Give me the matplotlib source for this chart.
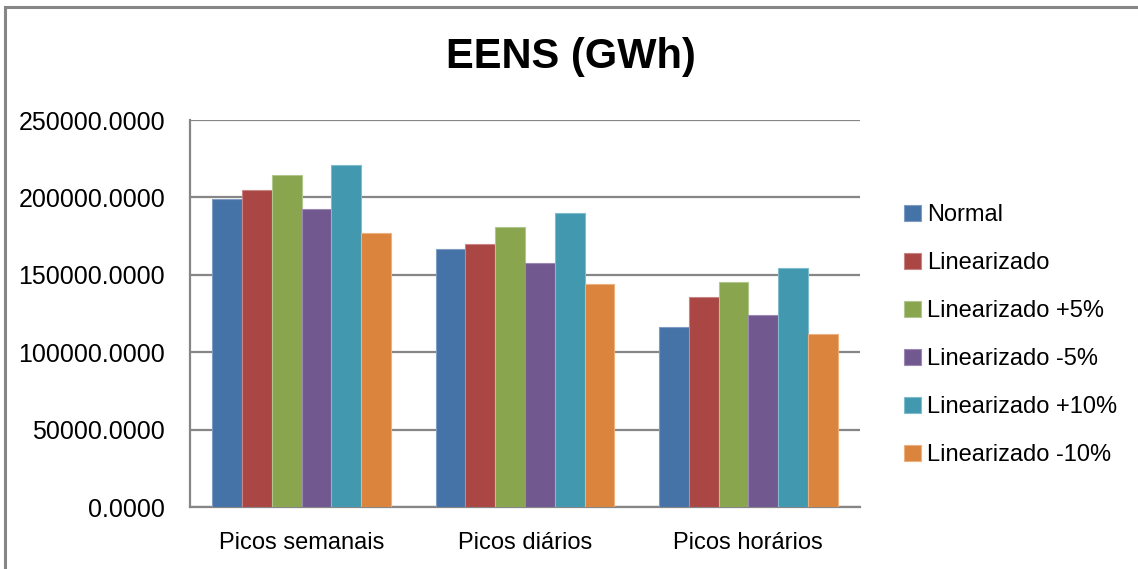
import numpy as np
import matplotlib
matplotlib.use("Agg")
import matplotlib.pyplot as plt
from matplotlib.patches import Rectangle

plt.rcParams['font.family'] = ['Liberation Sans', 'DejaVu Sans']

categories = ["Picos semanais", "Picos diários", "Picos horários"]
series = ["Normal", "Linearizado", "Linearizado +5%", "Linearizado -5%",
          "Linearizado +10%", "Linearizado -10%"]
normal = [199300, 167000, 116100]
linearizado = [204800, 170200, 135500]
lin_p5 = [214500, 180800, 145400]
lin_m5 = [192500, 158000, 123900]
lin_p10 = [220900, 190200, 154500]
lin_m10 = [177000, 144200, 112000]
values = [normal, linearizado, lin_p5, lin_m5, lin_p10, lin_m10]
colors = ["#4572A7", "#AA4643", "#89A54E", "#71588F", "#4198AF", "#DB843D"]
edges = ["#7E9CC4", "#C98583", "#B2C78F", "#9B88B3", "#7FBCCC", "#EDB07F"]
yticks = [0, 50000, 100000, 150000, 200000, 250000]

fig = plt.figure(figsize=(11.38, 5.69), dpi=100)
ax = fig.add_axes([190 / 1138, 1 - 507.3 / 569, 670 / 1138, 387.3 / 569])

x = np.arange(len(categories))
w = 0.8 / len(series)
for i, (name, vals) in enumerate(zip(series, values)):
    ax.bar(x - 0.4 + w * (i + 0.5), vals, width=w, color=colors[i],
           edgecolor=edges[i], linewidth=0.8, label=name, zorder=3)

ax.set_xlim(-0.5, len(categories) - 0.5)
ax.set_ylim(0, 250000)
ax.set_yticks(yticks)
ax.set_yticklabels([f"{v:.4f}" for v in yticks], fontsize=18)
ax.set_xticks(x)
ax.set_xticklabels(categories, fontsize=17)
ax.tick_params(axis='y', length=0, pad=18)
ax.tick_params(axis='x', length=0, pad=18)
ax.grid(axis='y', color='#868686', linewidth=1.6, zorder=0)
for s in ['top', 'right']:
    ax.spines[s].set_visible(False)
for s in ['left', 'bottom']:
    ax.spines[s].set_color('#868686')
    ax.spines[s].set_linewidth(1.6)

fig.text(571 / 1138, 1 - 57 / 569, "EENS (GWh)", ha='center', va='center',
         fontsize=30, fontweight='bold')

leg = fig.legend(loc='upper left', bbox_to_anchor=(895 / 1138, 1 - 195 / 569),
                 frameon=False, fontsize=17, handlelength=0.7, handleheight=0.7,
                 handletextpad=0.25, labelspacing=1.1, borderaxespad=0)

fig.patches.append(Rectangle((5 / 1138, -0.1), 1.2, 1.1 - 7 / 569,
                             transform=fig.transFigure, fill=False,
                             edgecolor='#868686', linewidth=2.2))

fig.savefig("out.png", dpi=100)
